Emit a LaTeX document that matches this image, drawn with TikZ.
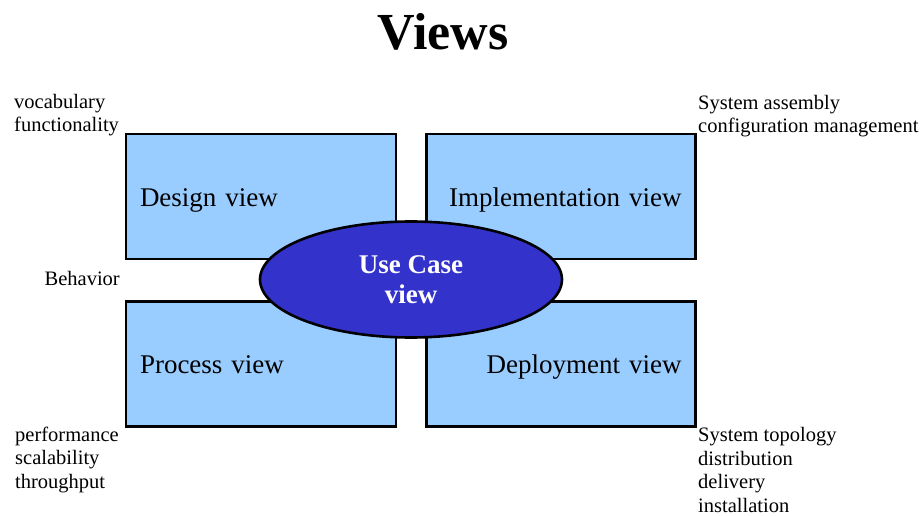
\documentclass[tikz,border=0pt]{standalone}
\usepackage{fontspec}
\setmainfont{Liberation Serif}
\usepackage{xcolor}
\usepackage{tikz}
\usetikzlibrary{shapes.geometric,positioning}
\definecolor{viewblue}{HTML}{99CCFF}
\definecolor{usecaseblue}{HTML}{3333CC}

\begin{document}
\begin{tikzpicture}[x=1pt,y=-1pt,
  viewbox/.style={draw=black, line width=2.6pt, fill=viewblue, minimum height=125pt,
    inner xsep=14pt, inner ysep=0pt, text height=20pt, text depth=0pt,
    font=\fontsize{27}{30}\selectfont},
  note/.style={inner sep=0pt, font=\fontsize{20.5}{23.6}\selectfont}]
\useasboundingbox (0,0) rectangle (924,516);
\node[font=\fontsize{52}{60}\selectfont\bfseries, anchor=base] (title) at (443,50) {Views};
% the four views
\node[viewbox, text width=242pt, align=left] (design) at (261,196.5) {Design view};
\node[viewbox, text width=241pt, align=right] (impl) at (561,196.5) {Implementation view};
\node[viewbox, text width=242pt, align=left] (process) at (261,363.7) {Process view};
\node[viewbox, text width=241pt, align=right] (deploy) at (561,363.7) {Deployment view};
% use case view in the middle
\node[ellipse, draw=black, line width=2.6pt, fill=usecaseblue, text=white, inner sep=0pt,
  minimum width=302pt, minimum height=116pt, align=center,
  font=\fontsize{27}{30.5}\selectfont\bfseries] (usecase) at (411,279.5) {Use Case\\view};
% concerns of each view (base = last line)
\node[note, anchor=base west, align=left] (designnote) at (14,132) {vocabulary\\functionality};
\node[note, anchor=base west, align=left] (implnote) at (698,133) {System assembly\\configuration management};
\node[note, anchor=base east] (behavior) at (120,285) {Behavior};
\node[note, anchor=base west, align=left] (processnote) at (15,488.5) {performance\\scalability\\throughput};
\node[note, anchor=base west, align=left] (deploynote) at (698,512.5) {System topology\\distribution\\delivery\\installation};
\end{tikzpicture}
\end{document}
